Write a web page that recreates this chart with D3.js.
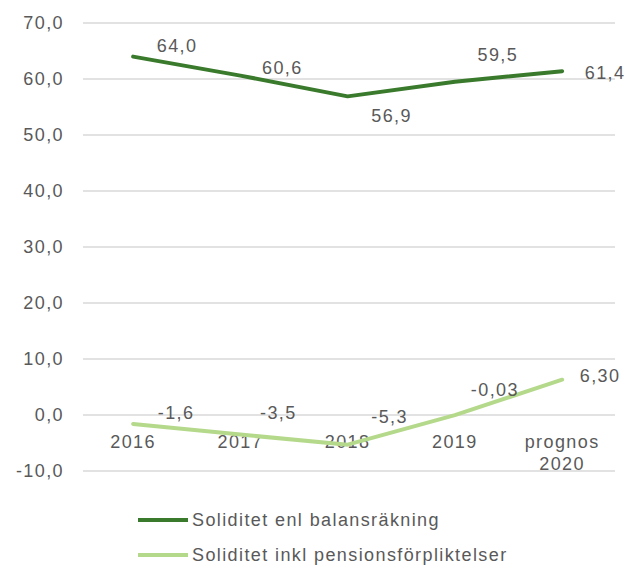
<!DOCTYPE html>
<html><head><meta charset="utf-8">
<script src="https://cdn.jsdelivr.net/npm/d3@7"></script>
<style>body{margin:0;background:#fff}svg{display:block}text{font-family:Arial,"Liberation Sans",sans-serif;fill:#595959}</style>
</head><body><svg id="c" width="633" height="568"></svg>
<script>
const categories = ["2016","2017","2018","2019","prognos\n2020"];
const seriesNames = ["Soliditet enl balansräkning","Soliditet inkl pensionsförpliktelser"];
const balans = [64.0, 60.6, 56.9, 59.5, 61.4];
const balansLabels = ["64,0","60,6","56,9","59,5","61,4"];
const pension = [-1.6, -3.5, -5.3, -0.03, 6.30];
const pensionLabels = ["-1,6","-3,5","-5,3","-0,03","6,30"];
const yTicks = [-10,0,10,20,30,40,50,60,70];

// layout-only label offsets (px)
const balansOff = [[44,-11],[42,-8],[44,19],[43,-27],[43,2]];
const pensionOff = [[43,-11],[38,-22],[42,-28],[40,-25],[38,-4]];

const FS = "18px", LS = "1.4px";
const svg = d3.select("#c");
const x = d3.scaleBand().domain(categories).range([79.5,615.75]);
const y = d3.scaleLinear().domain([-10,70]).range([471,23]);
const fmt = v => d3.format(".1f")(v).replace(".",",").replace("\u2212","-");

svg.append("g").selectAll("line").data(yTicks).join("line")
  .attr("x1",83).attr("x2",615).attr("y1",d=>y(d)).attr("y2",d=>y(d))
  .attr("stroke","#d9d9d9").attr("stroke-width",1.3);
svg.append("g").selectAll("text").data(yTicks).join("text")
  .attr("x",64).attr("y",d=>y(d)).attr("dy","0.35em").attr("text-anchor","end")
  .style("font-size",FS).style("letter-spacing",LS).text(fmt);

const cx = d => x(d) + x.bandwidth()/2;
// category labels
const cat = svg.append("g").selectAll("text").data(categories).join("text")
  .attr("text-anchor","middle").style("font-size",FS).style("letter-spacing",LS)
  .attr("x",d=>cx(d)).attr("y",y(0)+33);
cat.each(function(d){
  const lines = d.split("\n");
  d3.select(this).selectAll("tspan").data(lines).join("tspan")
    .attr("x",cx(d)).attr("dy",(l,i)=>i===0?0:22).text(l=>l);
});

const line = d3.line().x((d,i)=>cx(categories[i])).y(d=>y(d));
svg.append("path").datum(pension).attr("d",line).attr("fill","none")
  .attr("stroke","#b5d98b").attr("stroke-width",4).attr("stroke-linecap","round").attr("stroke-linejoin","round");
svg.append("path").datum(balans).attr("d",line).attr("fill","none")
  .attr("stroke","#3a7a2c").attr("stroke-width",4).attr("stroke-linecap","round").attr("stroke-linejoin","round");

svg.append("g").selectAll("text").data(balans).join("text")
  .attr("x",(d,i)=>cx(categories[i])+balansOff[i][0]).attr("y",(d,i)=>y(d)+balansOff[i][1])
  .attr("dy","0.35em").attr("text-anchor","middle").style("font-size",FS).style("letter-spacing",LS)
  .text((d,i)=>balansLabels[i]);
svg.append("g").selectAll("text").data(pension).join("text")
  .attr("x",(d,i)=>cx(categories[i])+pensionOff[i][0]).attr("y",(d,i)=>y(d)+pensionOff[i][1])
  .attr("dy","0.35em").attr("text-anchor","middle").style("font-size",FS).style("letter-spacing",LS)
  .text((d,i)=>pensionLabels[i]);

// legend
const colors = ["#3a7a2c","#b5d98b"];
const lg = svg.append("g").selectAll("g").data(seriesNames).join("g")
  .attr("transform",(d,i)=>`translate(138,${520+i*35})`);
lg.append("line").attr("x1",0).attr("x2",50).attr("stroke",(d,i)=>colors[i]).attr("stroke-width",4);
lg.append("text").attr("x",54).attr("dy","0.35em").style("font-size",FS).style("letter-spacing",LS).text(d=>d);
</script></body></html>
